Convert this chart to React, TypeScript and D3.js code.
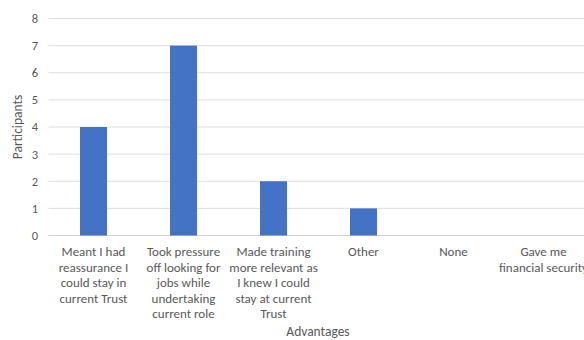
import React, { useRef, useEffect } from 'react';
import * as d3 from 'd3';

const categories = [
  'Meant I had reassurance I could stay in current Trust',
  'Took pressure off looking for jobs while undertaking current role',
  'Made training more relevant as I knew I could stay at current Trust',
  'Other',
  'None',
  'Gave me financial security',
];
const categoryLines = [
  ['Meant I had', 'reassurance I', 'could stay in', 'current Trust'],
  ['Took pressure', 'off looking for', 'jobs while', 'undertaking', 'current role'],
  ['Made training', 'more relevant as', 'I knew I could', 'stay at current', 'Trust'],
  ['Other'],
  ['None'],
  ['Gave me', 'financial security'],
];
const participants = [4, 7, 2, 1, 0, 0];
const yTicks = [0, 1, 2, 3, 4, 5, 6, 7, 8];

const W = 584;
const H = 340;
const font = 'Carlito, Calibri, Lato, "Open Sans", sans-serif';

export default function App() {
  const ref = useRef<SVGSVGElement>(null);

  useEffect(() => {
    const svg = d3.select(ref.current);
    svg.selectAll('*').remove();

    const x = d3.scaleBand<string>()
      .domain(categories)
      .range([48.5, 588.5])
      .paddingInner(0.7)
      .paddingOuter(0.35);

    const y = d3.scaleLinear().domain([0, 8]).range([235.5, 18.5]);

    // gridlines
    svg.append('g')
      .selectAll('line')
      .data(yTicks)
      .join('line')
        .attr('x1', 48.5)
        .attr('x2', W)
        .attr('y1', d => y(d))
        .attr('y2', d => y(d))
        .attr('stroke', d => (d === 0 ? '#d0d0d0' : '#dedede'))
        .attr('stroke-width', 1);

    // y tick labels
    svg.append('g')
      .selectAll('text')
      .data(yTicks)
      .join('text')
        .attr('x', 38)
        .attr('y', d => y(d))
        .attr('dy', '0.35em')
        .attr('text-anchor', 'end')
        .style('font-family', font)
        .style('font-size', '12.5px')
        .attr('fill', '#595959')
        .text(d => d);

    // bars
    svg.append('g')
      .selectAll('rect')
      .data(participants)
      .join('rect')
        .attr('x', (d, i) => x(categories[i])!)
        .attr('y', d => y(d))
        .attr('width', x.bandwidth())
        .attr('height', d => y(0) - y(d))
        .attr('fill', '#4472c4');

    // category labels
    const lab = svg.append('g')
      .selectAll('text')
      .data(categoryLines)
      .join('text')
        .attr('text-anchor', 'middle')
        .style('font-family', font)
        .style('font-size', '13px')
        .attr('fill', '#595959');
    lab.each(function (lines, i) {
      const cx = x(categories[i])! + x.bandwidth() / 2;
      d3.select(this)
        .selectAll('tspan')
        .data(lines)
        .join('tspan')
          .attr('x', cx)
          .attr('y', (d, j) => 256 + j * 15.6)
          .text(d => d);
    });

    // axis titles
    svg.append('text')
      .attr('transform', 'translate(22,127) rotate(-90)')
      .attr('text-anchor', 'middle')
      .style('font-family', font)
      .style('font-size', '13.5px')
      .attr('fill', '#595959')
      .text('Participants');

    svg.append('text')
      .attr('x', 318)
      .attr('y', 336)
      .attr('text-anchor', 'middle')
      .style('font-family', font)
      .style('font-size', '13.5px')
      .attr('fill', '#595959')
      .text('Advantages');
  }, []);

  return (
    <svg
      ref={ref}
      width={W}
      height={H}
      style={{ position: 'absolute', left: 0, top: 0, background: '#fff' }}
    />
  );
}
